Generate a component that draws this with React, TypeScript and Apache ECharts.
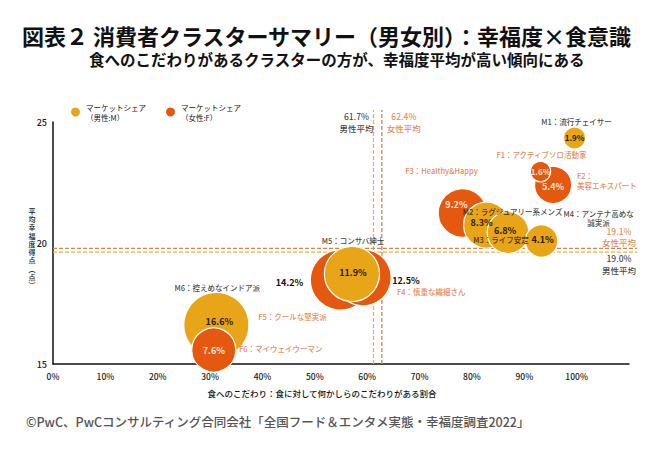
import React, { useEffect, useRef } from "react";
import * as echarts from "echarts";

// ---- Data ----
const xTickValues = [0, 10, 20, 30, 40, 50, 60, 70, 80, 90, 100];
const yTickValues = [15, 20, 25];

const maleIds = ["M1", "M2", "M3", "M4", "M5", "M6"];
const maleNames = ["流行チェイサー", "ラグジュアリー系メンズ", "ライフ安定", "アンテナ高めな\n誠実派", "コンサバ紳士", "控えめなインドア派"];
const maleFoodRate = [99.6, 82.8, 86.9, 93.3, 57.1, 31.2];
const maleHappiness = [24.34, 20.74, 20.43, 20.08, 18.72, 16.61];
const maleShare = [1.9, 8.3, 6.8, 4.1, 11.9, 16.6];

const femaleIds = ["F1", "F2", "F3", "F4", "F5", "F6"];
const femaleNames = ["アクティブソロ活動家", "\n美容エキスパート", "Healthy&Happy", "慎重な繊細さん", "クールな堅実派", "マイウェイウーマン"];
const femaleFoodRate = [93.1, 95.5, 78.2, 59.2, 54.9, 30.7];
const femaleHappiness = [22.95, 22.4, 21.24, 18.57, 18.47, 15.58];
const femaleShare = [1.6, 5.4, 9.2, 12.5, 14.2, 7.6];

// averages: printed labels and line positions as drawn in the picture
const avgFoodLabels = ["61.7%", "62.4%"]; // male, female
const avgFoodLinePos = [61.2, 62.8];
const avgHappyLabels = ["19.0%", "19.1%"]; // male, female
const avgHappyLinePos = [19.62, 19.78];

const titleText = "図表２ 消費者クラスターサマリー（男女別）：幸福度×食意識";
const subtitleText = "食へのこだわりがあるクラスターの方が、幸福度平均が高い傾向にある";
const xAxisTitle = "食へのこだわり：食に対して何かしらのこだわりがある割合";
const yAxisTitle = ["平", "均", "幸", "福", "度", "得", "点", "︵", "点", "︶"];
const sourceText = "©PwC、PwCコンサルティング合同会社「全国フード＆エンタメ実態・幸福度調査2022」";
const legendMale = "マーケットシェア\n（男性:M）";
const legendFemale = "マーケットシェア\n（女性:F）";

// ---- Styles / label placement ----
const FONT = "'Noto Sans CJK JP', 'Noto Sans', sans-serif";
const YELLOW = "#E9A518";
const ORANGE = "#E4580F";
const ORANGE_TEXT = "#E2692A";
const LINE_YELLOW = "#E8B452";
const LINE_ORANGE = "#E2803F";
const DARK = "#111111";

const maleValueOffset = [[0, 0], [-5, -3], [-3, -2], [1, -2], [1, -1], [3, -4]];
const femaleValueOffset = [[0, 0], [0, 2], [-6, -8], [43, 3], [-51, 2], [0, 1]];
const femaleValueInside = [true, true, true, false, false, true];
const maleNameOffset = [[2, -16], [26, -14], [-7, 7], [57, -23], [1, -33], [1, -38]];
const femaleNameOffset = [[1, -17], [24, -4.5], [-21, -42], [34, 14], [-48, 36], [67, -1]];
const femaleNameAlign = ["center", "left", "center", "left", "center", "center"];

const bubbleSize = (share: number) => 16 * Math.sqrt(share);

export default function App() {
  const ref = useRef<HTMLDivElement>(null);

  useEffect(() => {
    if (!ref.current) return;
    const chart = echarts.init(ref.current, null, { renderer: "svg" });

    const small = (s: number) => (s < 3 ? 8 : 9);
    const maleItem = (i: number) => ({
      value: [maleFoodRate[i], maleHappiness[i], maleShare[i]],
      label: { offset: maleValueOffset[i], fontSize: small(maleShare[i]) },
    });
    const femaleItem = (i: number) => ({
      value: [femaleFoodRate[i], femaleHappiness[i], femaleShare[i]],
      label: {
        offset: femaleValueOffset[i],
        fontSize: small(femaleShare[i]),
        color: femaleValueInside[i] ? "#FCE6D8" : DARK,
      },
    });

    const maleOrder = [5, 4, 1, 2, 3, 0];
    const femaleBackOrder = [4, 3, 2, 1, 0];
    const femaleFrontOrder = [5];

    const bubbleLabel = {
      show: true,
      position: "inside",
      formatter: (p: any) => p.value[2].toFixed(1) + "%",
      fontFamily: FONT,
      fontSize: 9,
      fontWeight: "bold",
    };

    const nameData = [
      ...maleIds.map((id, i) => ({
        value: [maleFoodRate[i], maleHappiness[i]],
        label: {
          formatter: id + "：" + maleNames[i],
          offset: maleNameOffset[i],
          color: DARK,
          align: "center",
        },
      })),
      ...femaleIds.map((id, i) => ({
        value: [femaleFoodRate[i], femaleHappiness[i]],
        label: {
          formatter: id + "：" + femaleNames[i],
          offset: femaleNameOffset[i],
          color: ORANGE_TEXT,
          align: femaleNameAlign[i],
        },
      })),
    ];

    const avgLabelData = [
      {
        value: [avgFoodLinePos[0], 25],
        label: { formatter: avgFoodLabels[0] + "\n男性平均", color: DARK, offset: [-17, 0] },
      },
      {
        value: [avgFoodLinePos[1], 25],
        label: { formatter: avgFoodLabels[1] + "\n女性平均", color: ORANGE_TEXT, offset: [22, 0] },
      },
      {
        value: [110, avgHappyLinePos[1]],
        label: { formatter: avgHappyLabels[1] + "\n女性平均", color: ORANGE_TEXT, offset: [-10, -12] },
      },
      {
        value: [110, avgHappyLinePos[0]],
        label: { formatter: avgHappyLabels[0] + "\n男性平均", color: DARK, offset: [-10, 12] },
      },
    ];

    // average guide lines: [x1, y1, x2, y2, colourIndex]
    const guideLines = [
      [avgFoodLinePos[0], 15, avgFoodLinePos[0], 25.5, 0],
      [avgFoodLinePos[1], 15, avgFoodLinePos[1], 25.5, 1],
      [0, avgHappyLinePos[1], 111.5, avgHappyLinePos[1], 1],
      [0, avgHappyLinePos[0], 111.5, avgHappyLinePos[0], 0],
    ];

    chart.setOption({
      animation: false,
      backgroundColor: "#ffffff",
      textStyle: { fontFamily: FONT },
      title: [
        {
          text: titleText,
          left: 22,
          top: 24,
          padding: 0,
          textStyle: { fontFamily: FONT, fontSize: 22, fontWeight: "bold", color: "#111" },
        },
        {
          text: subtitleText,
          left: 89,
          top: 51,
          padding: 0,
          textStyle: { fontFamily: FONT, fontSize: 15.5, fontWeight: "bold", color: "#111" },
        },
      ],
      legend: {
        data: [legendMale, legendFemale],
        left: 64,
        top: 97,
        icon: "circle",
        itemWidth: 11,
        itemHeight: 11,
        itemGap: 18,
        textStyle: { fontFamily: FONT, fontSize: 7.5, lineHeight: 10, color: DARK },
        selectedMode: false,
      },
      grid: { left: 53, right: 21, top: 122, bottom: 86 },
      xAxis: {
        type: "value",
        min: 0,
        max: 110,
        interval: 10,
        axisLine: { lineStyle: { color: "#111", width: 1.5 } },
        axisTick: { show: false },
        splitLine: { show: false },
        axisLabel: {
          formatter: (v: number) => (xTickValues.includes(v) ? v + "%" : ""),
          fontFamily: FONT,
          fontSize: 8.5,
          fontWeight: 500,
          color: "#222",
          margin: 8,
        },
      },
      yAxis: {
        type: "value",
        min: 15,
        max: 25,
        interval: 5,
        axisLine: { show: true, lineStyle: { color: "#111", width: 1.5 } },
        axisTick: { show: false },
        splitLine: { show: false },
        axisLabel: {
          formatter: (v: number) => (yTickValues.includes(v) ? String(v) : ""),
          fontFamily: FONT,
          fontSize: 9,
          fontWeight: 500,
          color: "#222",
          margin: 6,
        },
      },
      graphic: [
        {
          type: "text",
          left: 26,
          top: 415,
          style: { text: sourceText, font: `500 12.5px ${FONT}`, fill: "#555" },
        },
        {
          type: "text",
          x: 322,
          y: 393,
          style: {
            text: xAxisTitle,
            font: `500 8.5px ${FONT}`,
            fill: DARK,
            textAlign: "center",
            textVerticalAlign: "middle",
          },
        },
        {
          type: "text",
          x: 32,
          y: 248,
          style: {
            text: yAxisTitle.join("\n"),
            font: `500 7px ${FONT}`,
            lineHeight: 8.3,
            fill: DARK,
            textAlign: "center",
            textVerticalAlign: "middle",
          },
        },
      ],
      series: [
        {
          type: "custom",
          z: 1,
          silent: true,
          clip: false,
          data: guideLines,
          renderItem: (params: any, api: any) => {
            const p1 = api.coord([api.value(0), api.value(1)]);
            const p2 = api.coord([api.value(2), api.value(3)]);
            return {
              type: "line",
              shape: { x1: p1[0], y1: p1[1], x2: p2[0], y2: p2[1] },
              style: {
                stroke: api.value(4) === 0 ? LINE_YELLOW : LINE_ORANGE,
                lineWidth: 1.3,
                lineDash: [4, 2],
                fill: null,
              },
            };
          },
        },
        {
          name: legendFemale,
          type: "scatter",
          z: 2,
          clip: false,
          symbolSize: (v: number[]) => bubbleSize(v[2]),
          itemStyle: { color: ORANGE, borderColor: "#fff", borderWidth: 1.2, opacity: 1 },
          label: { ...bubbleLabel },
          data: femaleBackOrder.map(femaleItem),
        },
        {
          name: legendMale,
          type: "scatter",
          z: 3,
          clip: false,
          symbolSize: (v: number[]) => bubbleSize(v[2]),
          itemStyle: { color: YELLOW, borderColor: "#fff", borderWidth: 1.2, opacity: 1 },
          label: { ...bubbleLabel, color: "#2a1d05" },
          data: maleOrder.map(maleItem),
        },
        {
          name: legendFemale,
          type: "scatter",
          z: 4,
          clip: false,
          symbolSize: (v: number[]) => bubbleSize(v[2]),
          itemStyle: { color: ORANGE, borderColor: "#fff", borderWidth: 1.2, opacity: 1 },
          label: { ...bubbleLabel },
          data: femaleFrontOrder.map(femaleItem),
        },
        {
          type: "scatter",
          z: 10,
          silent: true,
          clip: false,
          symbolSize: 1,
          itemStyle: { color: "rgba(0,0,0,0)" },
          label: {
            show: true,
            position: "inside",
            fontFamily: FONT,
            fontSize: 7.5,
            fontWeight: 500,
            lineHeight: 9.5,
            verticalAlign: "middle",
          },
          data: nameData,
        },
        {
          type: "scatter",
          z: 10,
          silent: true,
          clip: false,
          symbolSize: 1,
          itemStyle: { color: "rgba(0,0,0,0)" },
          label: {
            show: true,
            position: "inside",
            fontFamily: FONT,
            fontSize: 8.5,
            fontWeight: 500,
            lineHeight: 11.5,
            align: "center",
            verticalAlign: "middle",
          },
          data: avgLabelData,
        },
      ],
    });

    return () => chart.dispose();
  }, []);

  return (
    <div
      ref={ref}
      style={{ position: "fixed", left: 0, top: 0, width: 650, height: 450, background: "#fff" }}
    />
  );
}
